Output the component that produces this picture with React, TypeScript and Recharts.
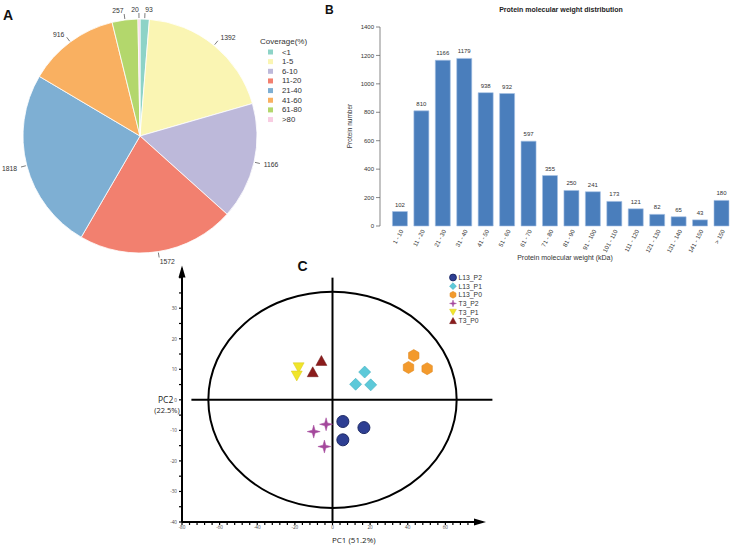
import React from 'react';
import {
  PieChart, Pie, Cell, BarChart, Bar, XAxis, YAxis, LabelList,
  ScatterChart, Scatter, ReferenceLine, ReferenceArea, ReferenceDot,
} from 'recharts';

// ---------- Panel A data ----------
const coverageLabels = ['<1', '1-5', '6-10', '11-20', '21-40', '41-60', '61-80', '>80'];
const coverageValues = [93, 1392, 1166, 1572, 1818, 916, 257, 20];
const coverageColors = ['#8DD3C7', '#FAF5B3', '#BDB9DA', '#F2806F', '#7EAFD3', '#F9B061', '#B3D76C', '#F8CDE2'];

// ---------- Panel B data ----------
const mwCategories = ['1 - 10', '11 - 20', '21 - 30', '31 - 40', '41 - 50', '51 - 60', '61 - 70', '71 - 80', '81 - 90', '91 - 100', '101 - 110', '111 - 120', '121 - 130', '131 - 140', '141 - 150', '> 150'];
const mwCounts = [102, 810, 1166, 1179, 938, 932, 597, 355, 250, 241, 173, 121, 82, 65, 43, 180];
const mwTicks = [0, 200, 400, 600, 800, 1000, 1200, 1400];

// ---------- Panel C data ----------
const L13_P2 = [{ x: 5.5, y: -7.1 }, { x: 5.5, y: -13.1 }, { x: 16.7, y: -9.1 }];
const L13_P1 = [{ x: 17.1, y: 9.1 }, { x: 12.3, y: 5.1 }, { x: 20.3, y: 4.9 }];
const L13_P0 = [{ x: 43.2, y: 14.5 }, { x: 40.4, y: 10.6 }, { x: 50.3, y: 10.2 }];
const T3_P2 = [{ x: -3.4, y: -8.0 }, { x: -10.0, y: -10.4 }, { x: -4.3, y: -15.3 }];
const T3_P1 = [{ x: -18.0, y: 10.6 }, { x: -19.0, y: 7.9 }];
const T3_P0 = [{ x: -5.9, y: 12.8 }, { x: -10.5, y: 9.1 }];
const pcaXTicks = [-80, -76, -72, -68, -64, -60, -56, -52, -48, -44, -40, -36, -32, -28, -24, -20, -16, -12, -8, -4, 0, 4, 8, 12, 16, 20, 24, 28, 32, 36, 40, 44, 48, 52, 56, 60, 64, 68, 72, 76];
const pcaXLabels = [-80, -60, -40, -20, 0, 20, 40, 60];
const pcaYTicks = [-40, -35, -30, -25, -20, -15, -10, -5, 0, 5, 10, 15, 20, 25, 30, 35, 40];
const pcaYLabels = [-40, -30, -20, -10, 0, 10, 20, 30];
const ellipseRange = { x: [-66, 66], y: [-35.4, 35.4] };

const SANS = '"Liberation Sans", Arial, Helvetica, sans-serif';
const PCAFONT = '"Open Sans", "Liberation Sans", Arial, sans-serif';

const RAD = Math.PI / 180;

const renderPieLabel = (props: any) => {
  const { cx, cy, midAngle, outerRadius, value } = props;
  const c = Math.cos(-midAngle * RAD);
  const s = Math.sin(-midAngle * RAD);
  const x1 = cx + (outerRadius + 1) * c, y1 = cy + (outerRadius + 1) * s;
  const x2 = cx + (outerRadius + 6) * c, y2 = cy + (outerRadius + 6) * s;
  const tx = cx + (outerRadius + 10) * c, ty = cy + (outerRadius + 10) * s;
  const anchor = c >= 0 ? 'start' : 'end';
  return (
    <g>
      <line x1={x1} y1={y1} x2={x2} y2={y2} stroke="#444" strokeWidth={0.7} />
      <text x={tx} y={ty} textAnchor={anchor} dominantBaseline="central" fontSize={6.8} fill="#333" stroke="none" fontFamily={SANS}>
        {value}
      </text>
    </g>
  );
};

const BarTick = (props: any) => {
  const { x, y, payload } = props;
  const px = x + 2;
  const py = y + 4;
  return (
    <text x={px} y={py} transform={`rotate(-62, ${px}, ${py})`} textAnchor="end" dy="0.35em" fontSize={6} fill="#333" fontFamily={SANS}>
      {payload.value}
    </text>
  );
};

const PcaXTick = (props: any) => {
  const { x, y, payload } = props;
  if (!pcaXLabels.includes(payload.value)) return <g />;
  return (
    <text x={x} y={y + 4} textAnchor="middle" fontSize={4.6} fill="#444" fontFamily={PCAFONT}>
      {payload.value}
    </text>
  );
};

const PcaYTick = (props: any) => {
  const { x, y, payload } = props;
  if (!pcaYLabels.includes(payload.value)) return <g />;
  return (
    <text x={x} y={y} textAnchor="end" dominantBaseline="central" fontSize={4.6} fill="#444" fontFamily={PCAFONT}>
      {payload.value}
    </text>
  );
};

const EllipseShape = (props: any) => {
  const { x, y, width, height } = props;
  return (
    <ellipse cx={x + width / 2} cy={y + height / 2} rx={Math.abs(width) / 2} ry={Math.abs(height) / 2} fill="none" stroke="#000" strokeWidth={2} />
  );
};

// marker drawers
const circleM = (cx: number, cy: number, r: number) => (
  <circle cx={cx} cy={cy} r={r} fill="#2E3F93" stroke="#1E2A66" strokeWidth={1} />
);
const diamondM = (cx: number, cy: number, r: number) => (
  <path d={`M${cx},${cy - r} L${cx + r},${cy} L${cx},${cy + r} L${cx - r},${cy} Z`} fill="#5DC9D9" stroke="#3FAFC0" strokeWidth={0.6} />
);
const hexM = (cx: number, cy: number, r: number) => {
  const pts = [0, 60, 120, 180, 240, 300].map((a) => {
    const t = (a - 90) * RAD;
    return `${cx + r * Math.cos(t)},${cy + r * Math.sin(t)}`;
  });
  return <polygon points={pts.join(' ')} fill="#F39A2C" stroke="#E08A20" strokeWidth={0.6} />;
};
const starM = (cx: number, cy: number, r: number) => {
  const ri = r * 0.3;
  const pts: string[] = [];
  for (let i = 0; i < 8; i++) {
    const rr = i % 2 === 0 ? r : ri;
    const t = (i * 45 - 90) * RAD;
    pts.push(`${cx + rr * Math.cos(t)},${cy + rr * Math.sin(t)}`);
  }
  return <polygon points={pts.join(' ')} fill="#A4489C" stroke="#A4489C" strokeWidth={0.5} />;
};
const downTriM = (cx: number, cy: number, r: number) => (
  <path d={`M${cx - r},${cy - r * 0.85} L${cx + r},${cy - r * 0.85} L${cx},${cy + r * 0.95} Z`} fill="#F0E52A" stroke="#D8C91C" strokeWidth={0.5} />
);
const upTriM = (cx: number, cy: number, r: number) => (
  <path d={`M${cx},${cy - r * 0.95} L${cx + r},${cy + r * 0.85} L${cx - r},${cy + r * 0.85} Z`} fill="#8B1C1C" stroke="#6E1414" strokeWidth={0.5} />
);

const pcaSeries = [
  { name: 'L13_P2', data: L13_P2, draw: circleM, size: 6 },
  { name: 'L13_P1', data: L13_P1, draw: diamondM, size: 6 },
  { name: 'L13_P0', data: L13_P0, draw: hexM, size: 6 },
  { name: 'T3_P2', data: T3_P2, draw: starM, size: 6.5 },
  { name: 'T3_P1', data: T3_P1, draw: downTriM, size: 5.5 },
  { name: 'T3_P0', data: T3_P0, draw: upTriM, size: 5.5 },
];

export default function App() {
  const pieData = coverageLabels.map((name, i) => ({ name, value: coverageValues[i] }));
  const mwData = mwCategories.map((name, i) => ({ name, count: mwCounts[i] }));

  return (
    <div style={{ position: 'absolute', left: 0, top: 0, width: 730, height: 546, overflow: 'hidden', background: '#fff', fontFamily: SANS }}>
      {/* Panel A */}
      <div style={{ position: 'absolute', left: 0, top: 0 }}>
        <PieChart width={325} height={276} margin={{ top: 0, right: 0, bottom: 0, left: 0 }}>
          <Pie
            data={pieData}
            dataKey="value"
            nameKey="name"
            cx={140}
            cy={136}
            outerRadius={117}
            startAngle={90}
            endAngle={-270}
            stroke="#ffffff"
            strokeWidth={0.8}
            label={renderPieLabel}
            labelLine={false}
            isAnimationActive={false}
          >
            {pieData.map((d, i) => (
              <Cell key={d.name} fill={coverageColors[i]} />
            ))}
          </Pie>
        </PieChart>
      </div>

      {/* Panel B */}
      <div style={{ position: 'absolute', left: 320, top: 0 }}>
        <BarChart width={412} height={262} data={mwData} margin={{ top: 27, right: 0, bottom: 0, left: 0 }} barCategoryGap="16%">
          <XAxis
            dataKey="name"
            axisLine={false}
            tickLine={false}
            tickSize={0}
            tickMargin={0}
            interval={0}
            tick={<BarTick />}
            height={36}
            padding={{ left: 9, right: 0 }}
          />
          <YAxis
            domain={[0, 1400]}
            ticks={mwTicks}
            width={60}
            interval={0}
            tickSize={4}
            tickMargin={2}
            tick={{ fontSize: 6, fill: '#333', fontFamily: SANS }}
            tickLine={{ stroke: '#555', strokeWidth: 0.7 }}
            axisLine={{ stroke: '#555', strokeWidth: 0.7 }}
          />
          <Bar dataKey="count" fill="#4A7EBC" stroke="#A6C1E4" strokeWidth={0.6} isAnimationActive={false}>
            <LabelList dataKey="count" position="top" offset={5} fontSize={6} fill="#333" fontFamily={SANS} />
          </Bar>
        </BarChart>
      </div>

      {/* Panel C */}
      <div style={{ position: 'absolute', left: 130, top: 250 }}>
        <ScatterChart width={400} height={296} margin={{ top: 18.5, right: 47, bottom: 0, left: 0 }}>
          <XAxis
            type="number"
            dataKey="x"
            domain={[-80, 80]}
            ticks={pcaXTicks}
            interval={0}
            allowDataOverflow
            tickSize={3}
            tickMargin={0}
            tick={<PcaXTick />}
            tickLine={{ stroke: '#000', strokeWidth: 1.2 }}
            axisLine={{ stroke: '#000', strokeWidth: 2 }}
            height={24}
          />
          <YAxis
            type="number"
            dataKey="y"
            domain={[-40, 43]}
            ticks={pcaYTicks}
            interval={0}
            allowDataOverflow
            tickSize={3}
            tickMargin={2}
            tick={<PcaYTick />}
            tickLine={{ stroke: '#000', strokeWidth: 1.2 }}
            axisLine={{ stroke: '#000', strokeWidth: 2 }}
            width={52}
          />
          <ReferenceArea
            x1={ellipseRange.x[0]}
            x2={ellipseRange.x[1]}
            y1={ellipseRange.y[0]}
            y2={ellipseRange.y[1]}
            ifOverflow="visible"
            shape={EllipseShape}
          />
          <ReferenceLine segment={[{ x: -75, y: 0 }, { x: 85, y: 0 }]} stroke="#000" strokeWidth={2} ifOverflow="visible" />
          <ReferenceLine segment={[{ x: 0, y: -40 }, { x: 0, y: 40 }]} stroke="#000" strokeWidth={2} ifOverflow="visible" />
          <ReferenceDot
            x={-80}
            y={43}
            r={0}
            ifOverflow="visible"
            shape={(p: any) => (
              <path d={`M${p.cx},${p.cy - 3} L${p.cx - 3.5},${p.cy + 9} L${p.cx + 3.5},${p.cy + 9} Z`} fill="#000" />
            )}
          />
          <ReferenceDot
            x={80}
            y={-40}
            r={0}
            ifOverflow="visible"
            shape={(p: any) => (
              <path d={`M${p.cx + 3},${p.cy} L${p.cx - 9},${p.cy - 3.5} L${p.cx - 9},${p.cy + 3.5} Z`} fill="#000" />
            )}
          />
          {pcaSeries.map((s) => (
            <Scatter
              key={s.name}
              name={s.name}
              data={s.data}
              isAnimationActive={false}
              shape={(p: any) => s.draw(p.cx, p.cy, s.size)}
            />
          ))}
        </ScatterChart>
      </div>

      {/* Text overlay */}
      <svg width={730} height={546} style={{ position: 'absolute', left: 0, top: 0, pointerEvents: 'none' }}>
        <text x={3} y={19.5} fontSize={14} fontWeight="bold" fill="#111" fontFamily={SANS}>A</text>
        <text x={325} y={13.5} fontSize={12} fontWeight="bold" fill="#111" fontFamily={SANS}>B</text>
        <text x={297.5} y={271} fontSize={14} fontWeight="bold" fill="#111" fontFamily={SANS}>C</text>

        {/* Pie legend */}
        <text x={260} y={41} fontSize={8} fill="#333" dominantBaseline="central" fontFamily={SANS}>Coverage(%)</text>
        {coverageLabels.map((lab, i) => (
          <g key={lab}>
            <rect x={268} y={52 + i * 9.65 - 2.5} width={5} height={5} fill={coverageColors[i]} />
            <text x={282} y={52 + i * 9.65} fontSize={7.8} fill="#333" dominantBaseline="central" fontFamily={SANS}>{lab}</text>
          </g>
        ))}

        {/* Bar chart texts */}
        <text x={561} y={11.5} fontSize={7} fontWeight="bold" fill="#222" textAnchor="middle" fontFamily={SANS}>Protein molecular weight distribution</text>
        <text x={352} y={126} fontSize={6.5} fill="#333" textAnchor="middle" transform="rotate(-90, 352, 126)" fontFamily={SANS}>Protein number</text>
        <text x={565} y={259.5} fontSize={7} fill="#333" textAnchor="middle" fontFamily={SANS}>Protein molecular weight (kDa)</text>

        {/* PCA axis titles */}
        <text x={158} y={403} fontSize={8.5} fill="#222" fontFamily={PCAFONT}>PC2</text>
        <text x={167} y={413} fontSize={7.5} fill="#222" textAnchor="middle" fontFamily={PCAFONT}>(22.5%)</text>
        <text x={332} y={543} fontSize={8} fill="#222" fontFamily={PCAFONT}>PC1  (51.2%)</text>

        {/* PCA legend */}
        {pcaSeries.map((s, i) => (
          <g key={s.name}>
            {s.draw(453, 277.5 + i * 8.65, 3.4)}
            <text x={458.5} y={277.5 + i * 8.65} fontSize={6.8} fill="#333" dominantBaseline="central" fontFamily={SANS}>{s.name}</text>
          </g>
        ))}
      </svg>
    </div>
  );
}
